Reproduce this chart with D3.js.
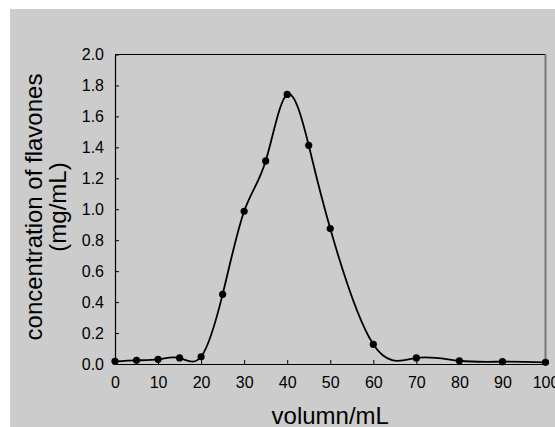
<!DOCTYPE html>
<html>
<head>
<meta charset="utf-8">
<script src="https://cdn.jsdelivr.net/npm/d3@7"></script>
<style>
    html, body { margin: 0; padding: 0; background: #ffffff; }
    svg { display: block; font-family: "Liberation Sans", Arial, sans-serif; }
</style>
</head>
<body>
<svg id="chart" width="555" height="427"></svg>
<script>
// data
var volumes = [0, 5, 10, 15, 20, 25, 30, 35, 40, 45, 50, 60, 70, 80, 90, 100];
var concentrations = [0.017, 0.024, 0.030, 0.039, 0.047, 0.45, 0.987, 1.312, 1.742, 1.413, 0.875, 0.127, 0.039, 0.021, 0.015, 0.011];
var xTicks = [0, 10, 20, 30, 40, 50, 60, 70, 80, 90, 100];
var yTicks = [0, 0.2, 0.4, 0.6, 0.8, 1.0, 1.2, 1.4, 1.6, 1.8, 2.0];
var xTitle = "volumn/mL";
var yTitleLines = ["concentration of flavones", "(mg/mL)"];

var style = {
    left: 115,
    right: 545.5,
    top: 54.5,
    bottom: 364,
    background: "#cccccc",
    tickSize: 4
};

var svg = d3.select("#chart");

svg.append("rect")
    .attr("x", 10)
    .attr("y", 9)
    .attr("width", 545)
    .attr("height", 418)
    .attr("fill", style.background);

var x = d3.scaleLinear().domain([0, 100]).range([style.left, style.right]);
var y = d3.scaleLinear().domain([0, 2]).range([style.bottom, style.top]);

// frame: top black, right grey
svg.append("line")
    .attr("x1", style.left).attr("x2", style.right)
    .attr("y1", style.top).attr("y2", style.top)
    .attr("stroke", "#000").attr("stroke-width", 1.2);
svg.append("line")
    .attr("x1", style.right).attr("x2", style.right)
    .attr("y1", style.top).attr("y2", style.bottom)
    .attr("stroke", "#777").attr("stroke-width", 2);

var xAxis = d3.axisBottom(x)
    .tickValues(xTicks)
    .tickSizeInner(-style.tickSize)
    .tickSizeOuter(0)
    .tickPadding(13)
    .tickFormat(d3.format("d"));

var yAxis = d3.axisLeft(y)
    .tickValues(yTicks)
    .tickSizeInner(-style.tickSize)
    .tickSizeOuter(0)
    .tickPadding(11)
    .tickFormat(d3.format(".1f"));

var gx = svg.append("g")
    .attr("transform", "translate(0," + style.bottom + ")")
    .call(xAxis);
var gy = svg.append("g")
    .attr("transform", "translate(" + style.left + ",0)")
    .call(yAxis);

[gx, gy].forEach(function(g) {
    g.select(".domain").attr("stroke", "#000").attr("stroke-width", 1.2);
    g.selectAll(".tick line").attr("stroke", "#000");
    g.selectAll(".tick text")
        .attr("fill", "#000")
        .style("font-size", "16px")
        .style("font-family", "'Liberation Sans', Arial, sans-serif");
});

// smooth curve through the points
var line = d3.line()
    .x(function(d, i) { return x(volumes[i]); })
    .y(function(d) { return y(d); })
    .curve(d3.curveNatural);

svg.append("path")
    .datum(concentrations)
    .attr("d", line)
    .attr("fill", "none")
    .attr("stroke", "#000")
    .attr("stroke-width", 1.8);

svg.selectAll("circle.pt")
    .data(concentrations)
    .enter()
    .append("circle")
    .attr("class", "pt")
    .attr("cx", function(d, i) { return x(volumes[i]); })
    .attr("cy", function(d) { return y(d); })
    .attr("r", 3.6)
    .attr("fill", "#000");

// titles
svg.append("text")
    .attr("x", (style.left + style.right) / 2)
    .attr("y", 424)
    .attr("text-anchor", "middle")
    .style("font-size", "24px")
    .attr("fill", "#000")
    .text(xTitle);

var yTitle = svg.append("text")
    .attr("transform", "translate(42," + 207 + ") rotate(-90)")
    .attr("text-anchor", "middle")
    .style("font-size", "24px")
    .attr("fill", "#000");

yTitle.selectAll("tspan")
    .data(yTitleLines)
    .enter()
    .append("tspan")
    .attr("x", 0)
    .attr("dy", function(d, i) { return i === 0 ? 0 : 24; })
    .text(function(d) { return d; });
</script>
</body>
</html>
